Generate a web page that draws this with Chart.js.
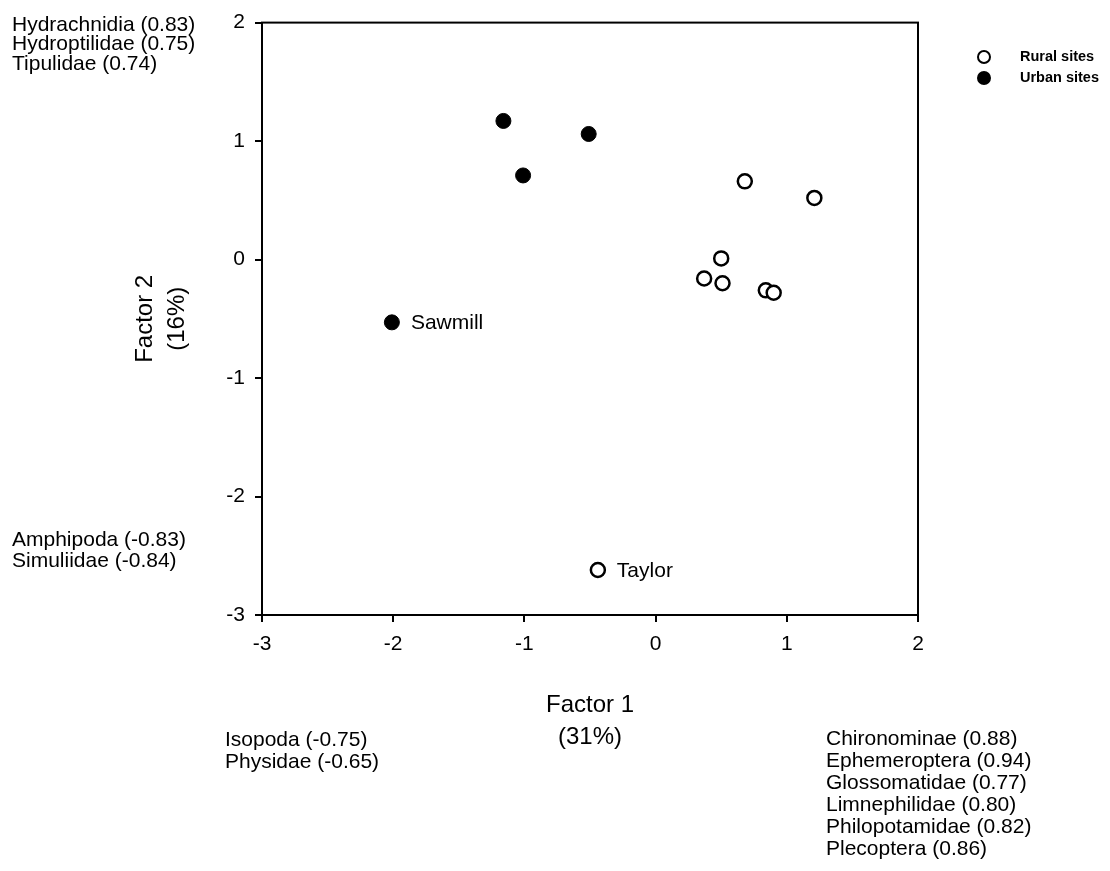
<!DOCTYPE html>
<html>
<head>
<meta charset="utf-8">
<script src="https://cdn.jsdelivr.net/npm/chart.js@4.4.0/dist/chart.umd.min.js"></script>
<style>
  html, body { margin: 0; padding: 0; background: #fff; }
  #wrap { width: 1110px; height: 871px; }
</style>
</head>
<body>
<div id="wrap"><canvas id="chart" width="1110" height="871"></canvas></div>
<script>
// site scores
const ruralX = [0.68, 1.21, 0.50, 0.37, 0.51, 0.84, 0.90, -0.44];
const ruralY = [0.66, 0.52, 0.01, -0.16, -0.20, -0.26, -0.28, -2.62];
const ruralNames = ["", "", "", "", "", "", "", "Taylor"];

const urbanX = [-1.16, -0.51, -1.01, -2.01];
const urbanY = [1.17, 1.06, 0.71, -0.53];
const urbanNames = ["", "", "", "Sawmill"];

const xTicks = [-3, -2, -1, 0, 1, 2];
const yTicks = [2, 1, 0, -1, -2, -3];

// taxa loadings printed around the plot
const loadTopLeft = ["Hydrachnidia (0.83)", "Hydroptilidae (0.75)", "Tipulidae (0.74)"];
const loadLowLeft = ["Amphipoda (-0.83)", "Simuliidae (-0.84)"];
const loadBottomLeft = ["Isopoda (-0.75)", "Physidae (-0.65)"];
const loadBottomRight = [
  "Chironominae (0.88)",
  "Ephemeroptera (0.94)",
  "Glossomatidae (0.77)",
  "Limnephilidae (0.80)",
  "Philopotamidae (0.82)",
  "Plecoptera (0.86)",
];

const FAMILY = '"Liberation Sans", Arial, Helvetica, sans-serif';
const font = (size, weight) => `${weight || "normal"} ${size}px ${FAMILY}`;

function toPoints(xs, ys) {
  return xs.map((x, i) => ({ x, y: ys[i] }));
}

const extras = {
  id: "extras",
  afterDraw(chart) {
    const { ctx, chartArea: a } = chart;
    ctx.save();

    // closed frame
    ctx.strokeStyle = "#000";
    ctx.lineWidth = 2;
    ctx.strokeRect(a.left, a.top, a.right - a.left, a.bottom - a.top);

    // site names next to their points
    ctx.fillStyle = "#000";
    ctx.font = font(21);
    ctx.textAlign = "left";
    ctx.textBaseline = "middle";
    const names = [ruralNames, urbanNames];
    chart.data.datasets.forEach((ds, i) => {
      const meta = chart.getDatasetMeta(i);
      names[i].forEach((n, j) => {
        if (!n) return;
        const p = meta.data[j];
        ctx.fillText(n, p.x + 19, p.y + 1);
      });
    });

    // loadings text blocks
    const blocks = [
      { lines: loadTopLeft, x: 12, y: 25, step: 19.5 },
      { lines: loadLowLeft, x: 12, y: 540, step: 21 },
      { lines: loadBottomLeft, x: 225, y: 740, step: 22 },
      { lines: loadBottomRight, x: 826, y: 739, step: 22 },
    ];
    ctx.font = font(21);
    blocks.forEach((b) => {
      b.lines.forEach((t, k) => ctx.fillText(t, b.x, b.y + k * b.step));
    });

    // legend
    ctx.font = font(14.5, "bold");
    chart.data.datasets.forEach((ds, i) => {
      const y = 57 + i * 21;
      ctx.beginPath();
      ctx.arc(984, y, 6, 0, Math.PI * 2);
      ctx.fillStyle = ds.backgroundColor;
      ctx.fill();
      ctx.lineWidth = 2;
      ctx.strokeStyle = "#000";
      ctx.stroke();
      ctx.fillStyle = "#000";
      ctx.fillText(ds.label, 1020, y);
    });

    ctx.restore();
  },
};

const axisCommon = {
  type: "linear",
  border: { display: true, color: "#000", width: 2 },
  grid: {
    drawOnChartArea: false,
    drawTicks: true,
    tickLength: 7,
    color: "#000",
    lineWidth: 2,
  },
};

new Chart(document.getElementById("chart"), {
  type: "scatter",
  data: {
    datasets: [
      {
        label: "Rural sites",
        data: toPoints(ruralX, ruralY),
        backgroundColor: "#fff",
        borderColor: "#000",
        borderWidth: 2.5,
        pointRadius: 7,
      },
      {
        label: "Urban sites",
        data: toPoints(urbanX, urbanY),
        backgroundColor: "#000",
        borderColor: "#000",
        borderWidth: 1,
        pointRadius: 7.5,
      },
    ],
  },
  options: {
    responsive: false,
    animation: false,
    layout: { padding: { left: 120, right: 192, top: 20, bottom: 116 } },
    plugins: {
      legend: { display: false },
      tooltip: { enabled: false },
    },
    scales: {
      x: {
        ...axisCommon,
        position: "bottom",
        min: xTicks[0],
        max: xTicks[xTicks.length - 1],
        afterBuildTicks: (s) => { s.ticks = xTicks.map((v) => ({ value: v })); },
        afterFit: (s) => { s.height = 140; },
        ticks: { color: "#000", font: { family: FAMILY, size: 21 }, padding: 10 },
        title: {
          display: true,
          text: ["Factor 1", "(31%)"],
          color: "#000",
          font: { family: FAMILY, size: 24, lineHeight: 1.33 },
          padding: { top: 0, bottom: 2 },
        },
      },
      y: {
        ...axisCommon,
        position: "left",
        min: yTicks[yTicks.length - 1],
        max: yTicks[0],
        afterBuildTicks: (s) => { s.ticks = yTicks.map((v) => ({ value: v })); },
        afterFit: (s) => { s.width = 142; },
        ticks: { color: "#000", font: { family: FAMILY, size: 21 }, padding: 10 },
        title: {
          display: true,
          text: ["Factor 2", "(16%)"],
          color: "#000",
          font: { family: FAMILY, size: 24, lineHeight: 1.33 },
          padding: { top: 9, bottom: 0 },
        },
      },
    },
  },
  plugins: [extras],
});
</script>
</body>
</html>
